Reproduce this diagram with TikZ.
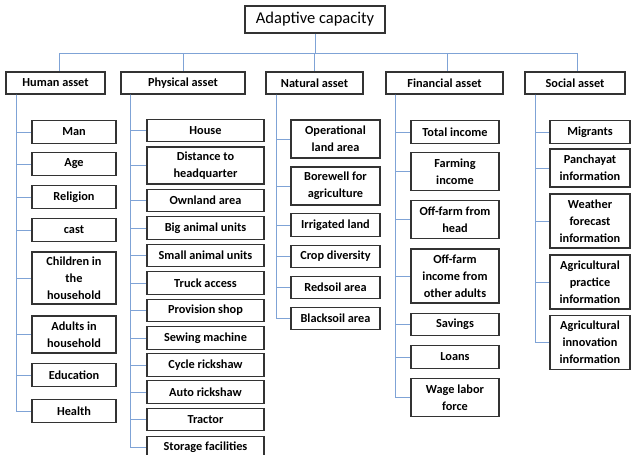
\documentclass[tikz,border=0pt]{standalone}
\usepackage{fontspec}
\setmainfont{Carlito}
\definecolor{linkblue}{HTML}{7FA3D6}
\definecolor{boxgray}{HTML}{333333}
\newcommand{\myitemfont}{\fontsize{12.3}{17}\selectfont\bfseries}
\newcommand{\mytopfont}{\fontsize{16.5}{20}\selectfont}
\begin{document}
\begin{tikzpicture}[x=1pt,y=-1pt,
  box/.style={draw=boxgray, line width=1.1pt, fill=white, align=center, inner sep=0pt, text=black, font=\myitemfont},
  link/.style={draw=linkblue, line width=0.9pt},
  one/.style={minimum height=22.5pt},
  two/.style={minimum height=38pt},
  three/.style={minimum height=54pt},
  hcol/.style={box, minimum width=84pt},
  pcol/.style={box, minimum width=117pt},
  ncol/.style={box, minimum width=89pt},
  fcol/.style={box, minimum width=88pt},
  scol/.style={box, minimum width=80pt},
  head/.style={box, minimum height=22pt},
]
\useasboundingbox (0,0) rectangle (633,455);

% root
\node[box, font=\mytopfont, line width=1.3pt, minimum width=140pt, minimum height=27pt] (top) at (315,19.5) {Adaptive capacity};

% level 1
\node[head, minimum width=99pt]  (human)     at (55.5,83)  {Human asset};
\node[head, minimum width=124pt] (physical)  at (183,83)   {Physical asset};
\node[head, minimum width=97pt]  (natural)   at (314.5,83) {Natural asset};
\node[head, minimum width=117pt] (financial) at (444.5,83) {Financial asset};
\node[head, minimum width=100pt] (social)    at (575,83)   {Social asset};

% human items
\node[hcol, one]   (man)      at (74,132)   {Man};
\node[hcol, one]   (age)      at (74,164)   {Age};
\node[hcol, one]   (religion) at (74,197)   {Religion};
\node[hcol, one]   (cast)     at (74,230)   {cast};
\node[hcol, minimum height=52pt] (children) at (74,278) {Children in\\the\\household};
\node[hcol, minimum height=37pt] (adults)   at (74,334.5) {Adults in\\household};
\node[hcol, one]   (education) at (74,375)  {Education};
\node[hcol, one]   (health)    at (74,411)  {Health};

% physical items
\node[pcol, one] (house)     at (205.5,130.5) {House};
\node[pcol, minimum height=37pt] (distance) at (205.5,165.5) {Distance to\\headquarter};
\node[pcol, one] (ownland)   at (205.5,200.5) {Ownland area};
\node[pcol, one] (big)       at (205.5,228)   {Big animal units};
\node[pcol, one] (small)     at (205.5,255.5) {Small animal units};
\node[pcol, one] (truck)     at (205.5,283)   {Truck access};
\node[pcol, one] (provision) at (205.5,310.5) {Provision shop};
\node[pcol, one] (sewing)    at (205.5,338)   {Sewing machine};
\node[pcol, one] (cycle)     at (205.5,365)   {Cycle rickshaw};
\node[pcol, one] (auto)      at (205.5,392)   {Auto rickshaw};
\node[pcol, one] (tractor)   at (205.5,419.5) {Tractor};
\node[pcol, one] (storage)   at (205.5,447.5) {Storage facilities};

% natural items
\node[ncol, two] (operational) at (335.5,139) {Operational\\land area};
\node[ncol, two] (borewell)    at (335.5,186) {Borewell for\\agriculture};
\node[ncol, one] (irrigated)   at (335.5,225) {Irrigated land};
\node[ncol, one] (crop)        at (335.5,256.5) {Crop diversity};
\node[ncol, one] (redsoil)     at (335.5,287.5) {Redsoil area};
\node[ncol, one] (blacksoil)   at (335.5,318.5) {Blacksoil area};

% financial items
\node[fcol, one]   (total)    at (455,132)   {Total income};
\node[fcol, two]   (farming)  at (455,171.5) {Farming\\income};
\node[fcol, two]   (offhead)  at (455,219.5) {Off-farm from\\head};
\node[fcol, three] (offother) at (455,276)   {Off-farm\\income from\\other adults};
\node[fcol, one]   (savings)  at (455,324.5) {Savings};
\node[fcol, one]   (loans)    at (455,357)   {Loans};
\node[fcol, two]   (wage)     at (455,397.5) {Wage labor\\force};

% social items
\node[scol, one]   (migrants)   at (590,132)   {Migrants};
\node[scol, two]   (panchayat)  at (590,168)   {Panchayat\\information};
\node[scol, three] (weather)    at (590,221)   {Weather\\forecast\\information};
\node[scol, three] (practice)   at (590,282)   {Agricultural\\practice\\information};
\node[scol, three] (innovation) at (590,342.5) {Agricultural\\innovation\\information};

% connectors
\coordinate (bus) at (0,53);
\draw[link] (top.south) -- (top.south |- bus);
\draw[link] ([xshift=3.5pt]human.north |- bus) -- ([xshift=2pt]social.north |- bus);
\draw[link] ([xshift=3.5pt]human.north |- bus) -- ([xshift=3.5pt]human.north);
\draw[link] (physical.north |- bus) -- (physical.north);
\draw[link] (natural.north |- bus) -- (natural.north);
\draw[link] ([xshift=2.5pt]financial.north |- bus) -- ([xshift=2.5pt]financial.north);
\draw[link] ([xshift=2pt]social.north |- bus) -- ([xshift=2pt]social.north);

\coordinate (hs) at ([xshift=11pt]human.south west);
\coordinate (ps) at ([xshift=10pt]physical.south west);
\coordinate (ns) at ([xshift=11pt]natural.south west);
\coordinate (fs) at ([xshift=10pt]financial.south west);
\coordinate (ss) at ([xshift=11pt]social.south west);

\foreach \i in {man,age,religion,cast,children,adults,education,health}
  \draw[link] (hs) |- (\i.west);
\foreach \i in {house,distance,ownland,big,small,truck,provision,sewing,cycle,auto,tractor,storage}
  \draw[link] (ps) |- (\i.west);
\foreach \i in {operational,borewell,irrigated,crop,redsoil,blacksoil}
  \draw[link] (ns) |- (\i.west);
\foreach \i in {total,farming,offhead,offother,savings,loans,wage}
  \draw[link] (fs) |- (\i.west);
\foreach \i in {migrants,panchayat,weather,practice,innovation}
  \draw[link] (ss) |- (\i.west);
\end{tikzpicture}
\end{document}
